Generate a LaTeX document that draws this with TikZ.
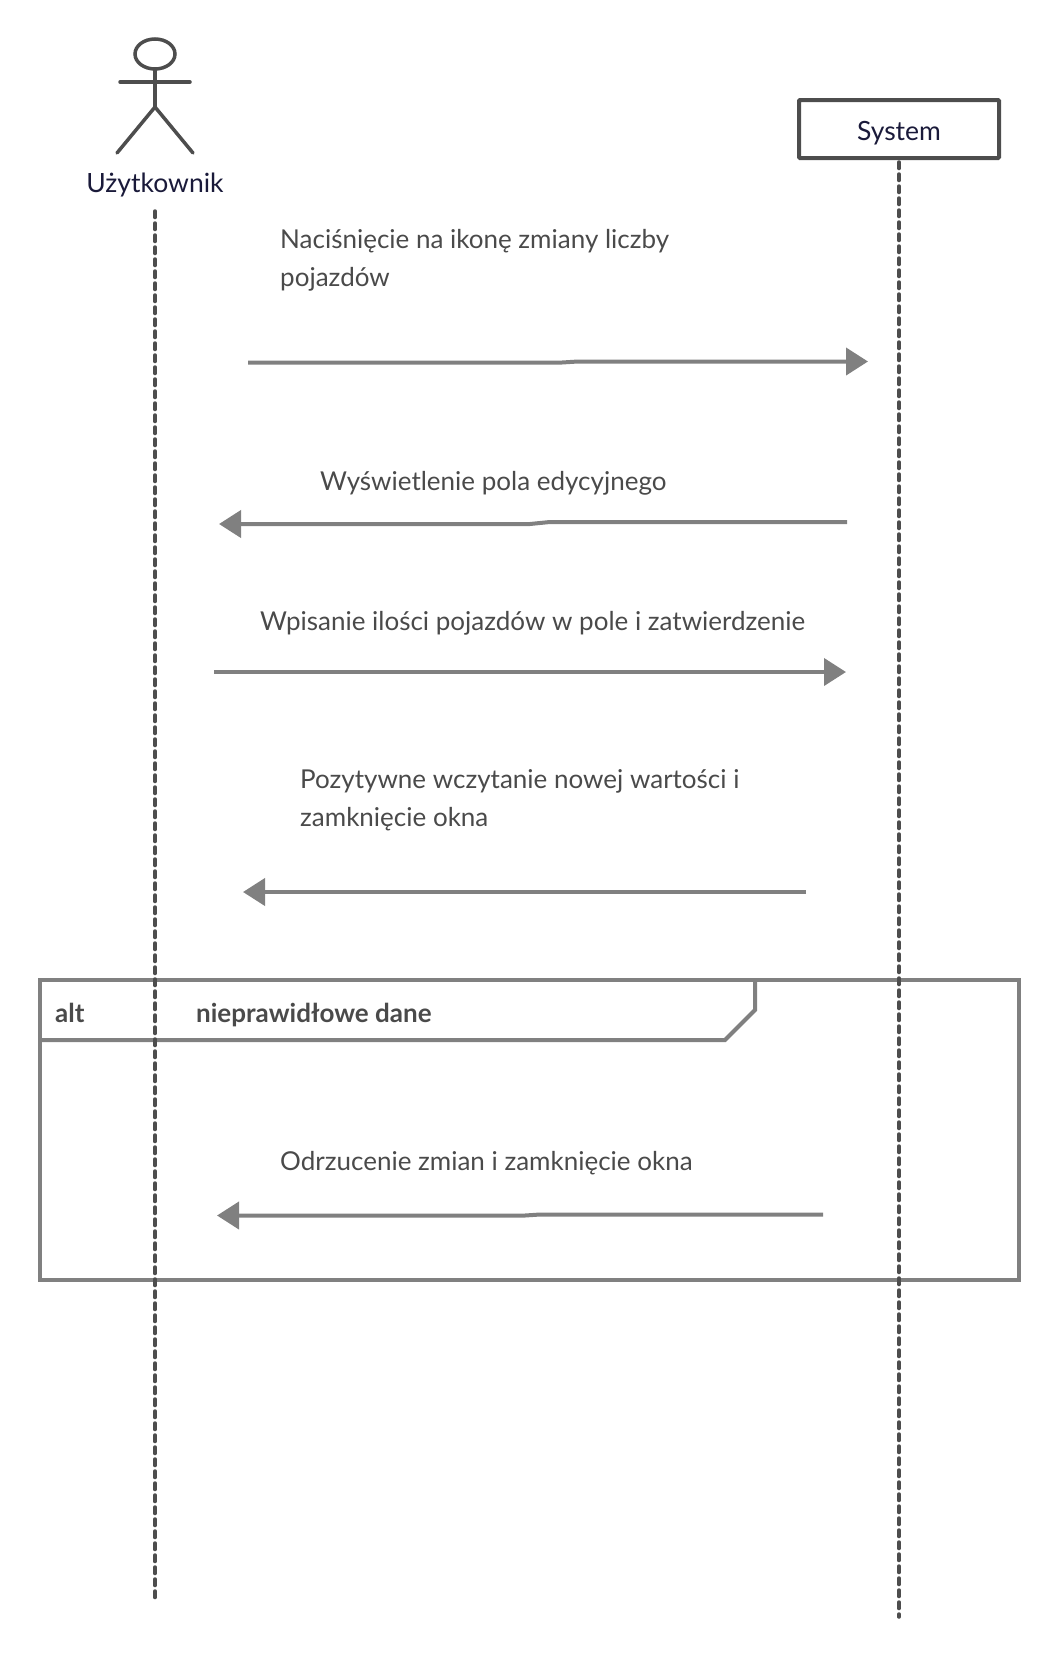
\documentclass[tikz,border=0pt]{standalone}
\usepackage{fontspec}
\setmainfont{Lato}
\usetikzlibrary{arrows.meta}
\definecolor{actorgray}{HTML}{4D4D4D}
\definecolor{linegray}{HTML}{808080}
\definecolor{textgray}{HTML}{4A4A4A}
\definecolor{namenavy}{HTML}{1A1A3A}
\tikzset{
  lifeline/.style={actorgray,line width=3.5pt,line cap=round,dash pattern=on 6.5pt off 5.5pt},
  actorline/.style={actorgray,line width=3.5pt,line cap=round},
  msg/.style={linegray,line width=4pt,-{Triangle[length=22pt,width=27pt]}},
  msgtext/.style={textgray,anchor=west,inner sep=0pt,align=left,font=\fontsize{26}{38}\selectfont},
  nametext/.style={text=namenavy,inner sep=0pt,font=\fontsize{26.5}{38}\selectfont},
  frametext/.style={textgray,anchor=base west,inner sep=0pt,font=\fontsize{26}{38}\selectfont\bfseries},
}
\begin{document}
\begin{tikzpicture}[x=1pt,y=-1pt]
\useasboundingbox (0,0) rectangle (1060,1660);

% alt frame
\draw[linegray,line width=4pt] (40,980) rectangle (1019,1280);
\draw[linegray,line width=4pt] (755,980) -- (755,1010) -- (725,1040) -- (40,1040);
\node[frametext] (altlabel) at (55,1022) {alt};
\node[frametext] (altguard) at (196,1022) {nieprawidłowe dane};

% actor
\draw[actorline] (155,54) ellipse (20 and 15);
\draw[actorline] (155,69) -- (155,107);
\draw[actorline] (120,82) -- (190,82);
\draw[actorline] (117,153) -- (155,107) -- (193,153);
\node[nametext] (user) at (155,185) {Użytkownik};

\node[draw=actorgray,line width=4pt,rounded corners=1pt,minimum width=200pt,minimum height=58pt] (system) at (899,129) {};
\node[nametext] (systemlabel) at (899,133) {System};

% lifelines
\coordinate (usertop) at (155,211);
\coordinate (userend) at (155,1598);
\coordinate (systop) at (899,162);
\coordinate (sysend) at (899,1617);
\draw[lifeline] (usertop) -- (userend);
\draw[lifeline] (systop) -- (sysend);

% messages
\coordinate (m1a) at (248,362.5);
\coordinate (m1c) at (562,362.5);
\coordinate (m1d) at (578,361.5);
\coordinate (m1b) at (868,361.5);
\coordinate (m2a) at (847,522);
\coordinate (m2c) at (550,522);
\coordinate (m2d) at (530,524);
\coordinate (m2b) at (219,524);
\coordinate (m3a) at (214,672);
\coordinate (m3b) at (846,672);
\coordinate (m4a) at (806,892);
\coordinate (m4b) at (243,892);
\coordinate (m5a) at (823,1214.5);
\coordinate (m5c) at (540,1214.5);
\coordinate (m5d) at (525,1215.5);
\coordinate (m5b) at (217,1215.5);
\draw[msg] (m1a) -- (m1c) -- (m1d) -- (m1b);
\draw[msg] (m2a) -- (m2c) -- (m2d) -- (m2b);
\draw[msg] (m3a) -- (m3b);
\draw[msg] (m4a) -- (m4b);
\draw[msg] (m5a) -- (m5c) -- (m5d) -- (m5b);

\node[msgtext] (m1text) at (280,260) {Naciśnięcie na ikonę zmiany liczby\\pojazdów};
\node[msgtext] (m2text) at (320,483) {Wyświetlenie pola edycyjnego};
\node[msgtext] (m3text) at (260,623) {Wpisanie ilości pojazdów w pole i zatwierdzenie};
\node[msgtext] (m4text) at (300,800) {Pozytywne wczytanie nowej wartości i\\zamknięcie okna};
\node[msgtext] (m5text) at (280,1163) {Odrzucenie zmian i zamknięcie okna};

\end{tikzpicture}
\end{document}
